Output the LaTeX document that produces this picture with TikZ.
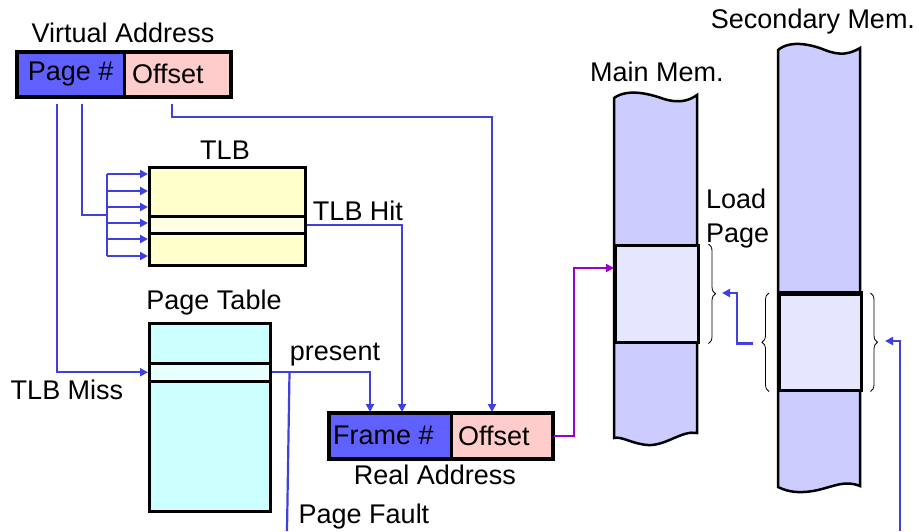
\documentclass[tikz,border=0pt]{standalone}
\usepackage{fontspec}
\setmainfont{Liberation Sans}
\usetikzlibrary{arrows.meta,decorations.pathreplacing,calc}
\definecolor{lblue}{RGB}{64,64,224}
\definecolor{pblue}{RGB}{96,96,255}
\definecolor{ppink}{RGB}{255,204,204}
\definecolor{tlbY}{RGB}{255,255,204}
\definecolor{tlbYl}{RGB}{255,255,232}
\definecolor{ptC}{RGB}{204,255,255}
\definecolor{ptCl}{RGB}{232,255,255}
\definecolor{memB}{RGB}{204,204,255}
\definecolor{memBl}{RGB}{230,230,255}
\definecolor{purp}{RGB}{153,0,204}
\begin{document}
\begin{tikzpicture}[x=1pt,y=-1pt,
  font=\fontsize{27}{34}\selectfont,
  box/.style={draw=black, line width=2.5pt, inner sep=0pt, anchor=north west},
  conn/.style={draw=lblue, line width=2.2pt},
  arr/.style={conn, -{Triangle[length=8pt,width=8pt]}},
  parr/.style={draw=purp, line width=2.2pt, -{Triangle[length=8pt,width=8pt]}},
  lbl/.style={inner sep=0pt},
  brc/.style={draw=black, line width=0.8pt, decorate, decoration={brace, amplitude=7pt}},
  mem/.style={fill=memB, draw=black, line width=2.5pt}]
\useasboundingbox (0,0) rectangle (919,531);

% ---------- Virtual address ----------
\node[lbl] (valbl) at (123,33) {Virtual Address};
\node[box, fill=pblue, minimum width=107pt, minimum height=44pt] (vpage) at (16,51) {};
\node[box, fill=ppink, minimum width=106pt, minimum height=44pt] (voff) at (123,51) {};
\draw[black, line width=2.5pt] (vpage.north west) rectangle (voff.south east);
\node[lbl] at (vpage.center) {Page \#};
\node[lbl, anchor=west] at ($(voff.west)+(9,0)$) {Offset};

% ---------- TLB ----------
\node[lbl] (tlblbl) at (225,150) {TLB};
\node[box, fill=tlbY, minimum width=156pt, minimum height=98pt] (tlb) at (148,166) {};
\node[box, fill=tlbYl, minimum width=156pt, minimum height=17pt] (tlbhit) at (148,215) {};
\node[lbl] (hitlbl) at (358,211) {TLB Hit};

% ---------- Page table ----------
\node[lbl] (ptlbl) at (214,303) {Page Table};
\node[box, fill=ptC, minimum width=121pt, minimum height=188pt] (pt) at (148,322) {};
\node[box, fill=ptCl, minimum width=121pt, minimum height=18pt] (ptrow) at (148,362) {};
\node[lbl] (preslbl) at (335,355) {present};
\node[lbl] (misslbl) at (67,390) {TLB Miss};
\node[lbl] (pflbl) at (364,517) {Page Fault};

% ---------- Real address ----------
\node[box, fill=pblue, minimum width=122pt, minimum height=45pt] (rframe) at (328,412) {};
\node[box, fill=ppink, minimum width=101pt, minimum height=45pt] (roff) at (450,412) {};
\draw[black, line width=2.5pt] (rframe.north west) rectangle (roff.south east);
\node[lbl, anchor=west] at ($(rframe.west)+(5,0)$) {Frame \#};
\node[lbl, anchor=west] at ($(roff.west)+(8,0)$) {Offset};
\node[lbl] (ralbl) at (435,475) {Real Address};

% ---------- Main memory ----------
\node[lbl] (mmlbl) at (657,72) {Main Mem.};
\path[mem] (614,98) .. controls (628,88) and (650,94) .. (664,99)
  .. controls (680,104) and (690,100) .. (697,95) -- (697,433)
  .. controls (682,430) and (666,446) .. (648,445)
  .. controls (632,444) and (622,436) .. (614,438) -- cycle;
\node[box, fill=memBl, minimum width=83pt, minimum height=97pt] (mmblock) at (614,244) {};

% ---------- Secondary memory ----------
\node[lbl] (smlbl) at (813,22) {Secondary Mem.};
\path[mem] (778,50) .. controls (790,40) and (810,44) .. (825,50)
  .. controls (840,56) and (850,54) .. (860,48) -- (860,486)
  .. controls (845,480) and (835,486) .. (818,490)
  .. controls (800,494) and (788,492) .. (778,487) -- cycle;
\node[box, fill=memBl, minimum width=82pt, minimum height=96pt] (smblock) at (778,293) {};
\draw[black, line width=3.5pt] (smblock.north west) -- (smblock.north east);

\node[lbl, anchor=west, align=left] (loadlbl) at (706,219) {Load\\Page};

% braces
\draw[brc] ($(mmblock.north east)+(9,0)$) -- ($(mmblock.south east)+(9,0)$);
\draw[brc] ($(smblock.south west)+(-9,0)$) -- ($(smblock.north west)+(-9,0)$);
\draw[brc] ($(smblock.north east)+(8,0)$) -- ($(smblock.south east)+(8,0)$);

% ---------- Connectors ----------
% TLB miss path
\draw[arr] ($(vpage.south west)+(41,6)$) |- (ptrow.west);
% page # to TLB bus
\coordinate (bus) at (107,215);
\draw[conn] ($(vpage.south west)+(66,6)$) |- (bus);
\draw[conn] (107,174) -- (107,256);
\foreach \yy in {174,191,207,223,239,256}
  \draw[arr] (107,\yy) -- (tlb.west |- 0,\yy);
% offset to real address offset
\draw[arr] ($(voff.south west)+(49,6)$) |- (492,117) -- ($(roff.north west)+(42,0)$);
% TLB hit
\draw[arr] (tlbhit.east) -| ($(rframe.north west)+(74,0)$);
% present
\draw[arr] (ptrow.east) -| ($(rframe.north west)+(42,0)$);
% page fault
\draw[conn] ($(ptrow.east)+(18,0)$) -- (287,531);
% real address to main memory
\coordinate (pin) at ($(mmblock.north west)+(0,24)$);
\draw[parr] (roff.east) -| (574,268) -- (pin);
% load page
\draw[arr] ($(smblock.south west)+(-25,-48)$) -| (737,293) -- (722,293);
\draw[arr] (900,531) |- (885,341);
\end{tikzpicture}
\end{document}
